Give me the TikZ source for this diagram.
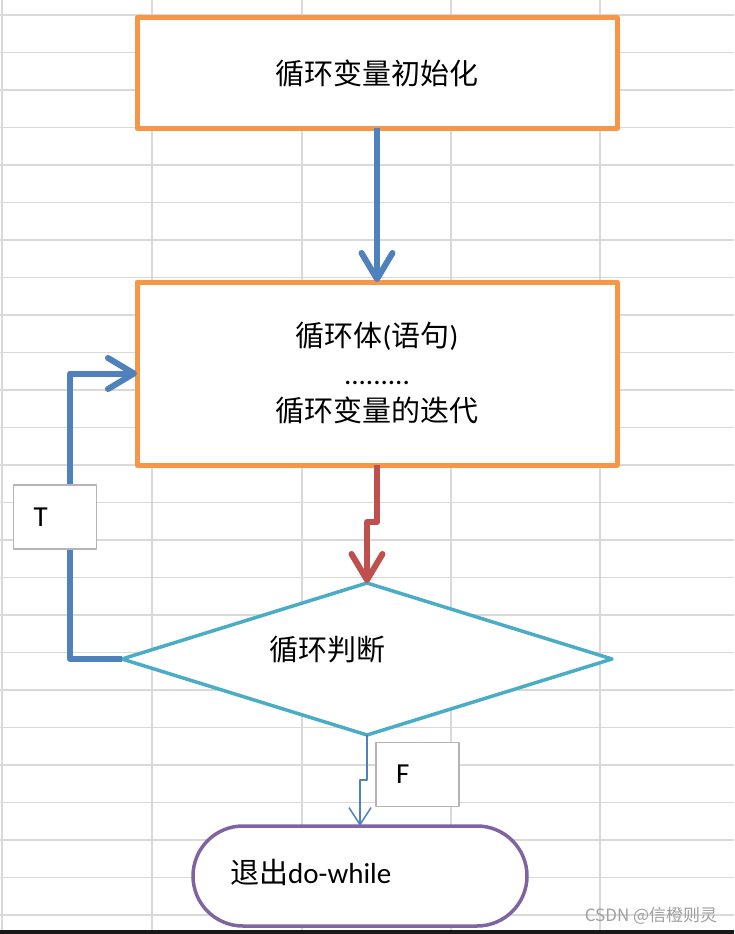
\documentclass[tikz,border=0pt]{standalone}
\usepackage{fontspec}
\setmainfont{Carlito}
\newfontfamily\cjk{Noto Sans CJK SC}
\usetikzlibrary{positioning, shapes.geometric, arrows.meta}

\definecolor{boxorange}{HTML}{F79646}
\definecolor{flowblue}{HTML}{4F81BD}
\definecolor{flowred}{HTML}{C0504D}
\definecolor{condteal}{HTML}{4BACC6}
\definecolor{exitpurple}{HTML}{8064A2}
\definecolor{gridgray}{HTML}{D9D9D9}
\definecolor{taggray}{HTML}{B4B4B4}

\newcommand{\flowfont}{\fontsize{29pt}{37.5pt}\selectfont}

\begin{document}
\begin{tikzpicture}[x=1pt,y=-1pt,line join=round,
    flowbox/.style={draw=boxorange, line width=5pt, fill=white, outer sep=0pt, minimum width=480pt, font=\flowfont, align=center},
    condbox/.style={diamond, draw=condteal, line width=3.5pt, fill=white, inner sep=0pt, outer sep=0pt, minimum width=490pt, minimum height=152pt},
    exitbox/.style={rectangle, rounded corners=50pt, draw=exitpurple, line width=3.5pt, fill=white, outer sep=0pt, minimum width=334pt, minimum height=100pt},
    tagbox/.style={draw=taggray, line width=1.5pt, fill=white, inner xsep=20pt, inner ysep=0pt, text width=43pt, minimum height=64pt, align=left, font=\flowfont},
    thickarrow/.style={line width=6pt, -{Straight Barb[length=26pt,width=31pt,round]}},
    thinarrow/.style={draw=flowblue, line width=1.5pt, -{Straight Barb[length=17pt,width=22pt]}},
    gridline/.style={draw=gridgray, line width=1.5pt}]
    \useasboundingbox (0,0) rectangle (734,934);

    % sheet grid
    \foreach \gx in {2,152,302,451,600}
        \draw[gridline] (\gx,0) -- (\gx,934);
    \foreach \k in {0,...,24}
        \draw[gridline] (0,{15+37.5*\k}) -- (734,{15+37.5*\k});

    \node[flowbox, minimum height=110pt] (init) at (377,73) {\cjk 循环变量初始化};
    \node[flowbox, minimum height=183pt, below=154pt of init] (body) {{\cjk 循环体}({\cjk 语句})\\.........\\{\cjk 循环变量的迭代}};
    \node[condbox, below=118pt of body, xshift=-10pt] (cond) {};
    \node[font=\flowfont] (condtext) at ([xshift=-40pt,yshift=9pt]cond.center) {\cjk 循环判断};
    \node[exitbox, below=91pt of cond, xshift=-7pt] (exit) {};
    \node[anchor=west, inner sep=0pt, font=\flowfont] (exittext) at ([xshift=37pt,yshift=4pt]exit.west) {{\cjk 退出}do-while};

    \draw[thickarrow, flowblue] (init.south) -- (body.north);
    \draw[thickarrow, flowred] (body.south) -- ++(0,57) -| (cond.north);
    \draw[thickarrow, flowblue] (cond.west) -- ++(-52,0) |- (body.west);
    \draw[thinarrow] (cond.south) -- ++(0,45) -| (exit.north);

    \node[tagbox] (tagT) at (55,517) {T};
    \node[tagbox] (tagF) at (417.5,774.5) {F};

    \node[text=gray!75, font=\cjk\fontsize{17pt}{17pt}\selectfont] (mark) at (651,916) {CSDN @信橙则灵};
    \fill[black!90] (0,929.5) rectangle (734,934);
\end{tikzpicture}
\end{document}
